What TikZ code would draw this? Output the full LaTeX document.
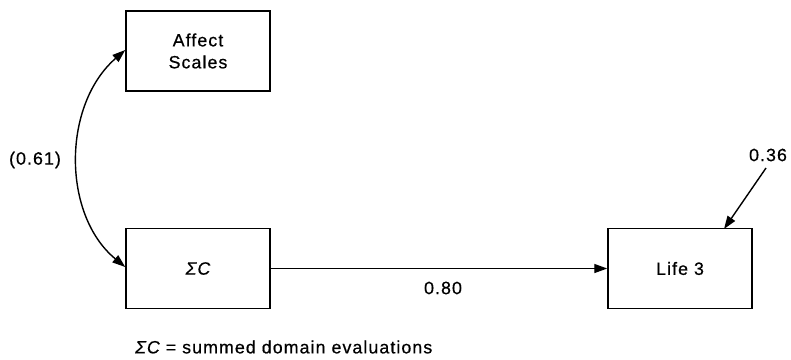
\documentclass[tikz,border=0pt]{standalone}
\usepackage{fontspec}
\setmainfont[LetterSpace=6,FakeBold=0.6]{Liberation Sans}
\usetikzlibrary{arrows.meta}
\begin{document}
\begin{tikzpicture}[x=1pt,y=-1pt,
  box/.style={draw,line width=1.5pt,minimum width=144pt,minimum height=80pt,inner sep=0pt,font=\fontsize{17.8}{21}\selectfont,align=center},
  lbl/.style={font=\fontsize{17.8}{21}\selectfont,inner sep=0pt},
  arr/.style={line width=1.4pt,-{Triangle[length=13pt,width=9pt]}},
  darr/.style={line width=1.4pt,{Triangle[length=13pt,width=9pt]}-{Triangle[length=13pt,width=9pt]}}]
\useasboundingbox (0,0) rectangle (791,359);
\node[box] (affect) at (198,51) {Affect\\[1pt]Scales};
\node[box] (sc) at (198,268.5) {\itshape ΣC};
\node[box] (life) at (680,268.5) {Life 3};
\draw[arr] (sc.east) -- (life.west);
\node[lbl] (b) at (443,288) {0.80};
\node[lbl] (e) at (768,155) {0.36};
\coordinate (eend) at (724,229);
\draw[arr] (766,168) -- (eend);
\draw[darr] (affect.west|-0,50) .. controls (62,105) and (62,215) .. (sc.west|-0,267);
\node[lbl] (r) at (35,160) {(0.61)};
\node[lbl,anchor=west] (note) at (135,347) {{\itshape ΣC} = summed domain evaluations};
\end{tikzpicture}
\end{document}
